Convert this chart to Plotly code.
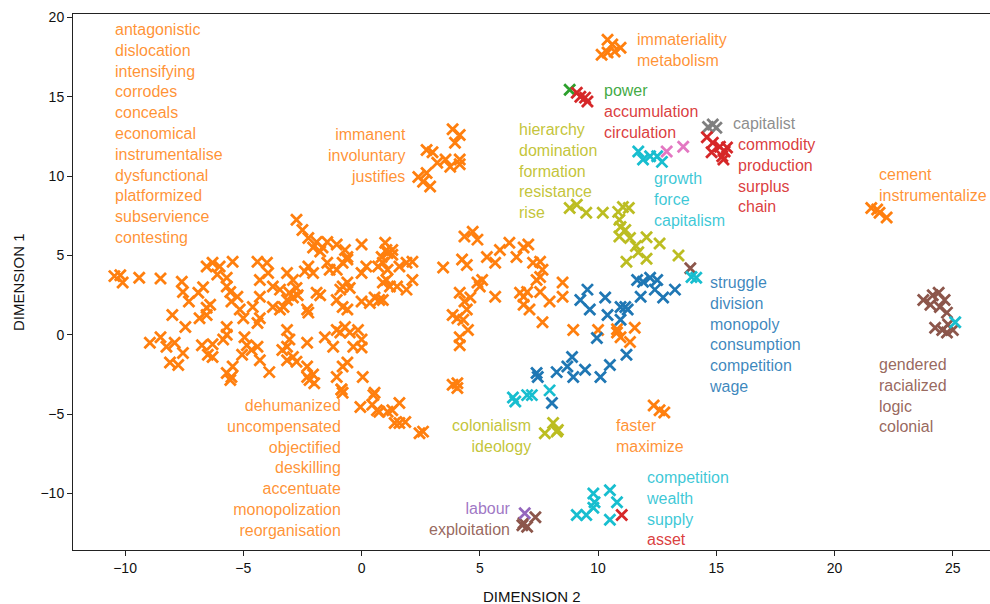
import plotly.graph_objects as go

# ---- embedding coordinates per cluster colour (DIMENSION 2 = x, DIMENSION 1 = y) ----
orange_x = [
    -10.45, -10.2, -10.1, -9.4, -8.5, -7.6, -7.55, -7.3, -8.0, -7.45,
    -8.95, -8.5, -8.25, -7.9, -8.1, -7.75, -7.55, -6.75, -6.5, -6.3,
    -6.85, -6.55, -6.9, -6.7, -6.4, -6.55, -6.55, -6.3, -6.0, -6.1,
    -5.7, -5.45, -5.7, -5.55, -5.25, -5.5, -5.15, -5.0, -5.7, -5.85,
    -5.7, -6.3, -5.7, -5.5, -5.45, -4.95, -4.85, -4.65, -4.4, -5.05,
    -4.3, -3.9, -4.6, -4.3, -4.4, -4.0, -3.95, -4.3, -4.3, -4.4,
    -3.75, -3.45, -3.75, -3.45, -3.15, -2.9, -2.75, -3.05, -2.9, -2.7,
    -3.15, -3.3, -3.15, -3.05, -3.15, -3.35, -3.15, -2.9, -2.75, -2.3,
    -2.3, -2.3, -2.2, -2.05, -2.3, -2.25, -2.4, -2.25, -2.05, -1.9,
    -1.75, -1.45, -1.35, -1.55, -1.2, -1.05, -0.9, -1.05, -0.8, -0.85,
    -0.8, -1.05, -0.8, -0.6, -0.9, -0.8, -0.6, -0.5, -1.05, -0.8,
    -0.6, -0.7, -0.5, -0.15, 0.0, -0.35, 0.0, -0.6, 0.05, 0.55,
    0.45, 0.75, 1.3, 0.7, 0.9, 1.1, 0.55, 0.75, 0.9, 1.2,
    0.0, 0.35, 0.0, 0.0, -2.75, -2.5, -2.25, -1.9, -1.45, -1.65,
    -1.05, -2.05, -1.75, -0.7, -0.6, 0.2, 1.0, 1.1, 0.85, 1.3,
    1.05, 1.3, 1.6, 1.9, 2.15, 1.05, 1.5, 1.9, 2.15, 0.9,
    3.45, 4.25, 4.45, 4.35, 4.9, 4.7, 4.15, 4.35, 4.6, 4.45,
    4.3, 4.05, 3.85, 4.5, 4.15, 4.15, 4.9, 5.1, 5.0, 5.65,
    3.85, 4.05, 4.05, 5.3, 5.65, 5.85, 6.25, 6.55, 6.85, 7.05,
    7.25, 7.55, 7.65, 7.55, 7.4, 6.7, 6.85, 7.0, 6.85, 7.1,
    7.55, 7.95, 7.65, 8.5, 8.5, 8.95, 10.0, 10.8, 10.95, 10.8,
    11.35, 11.55, 12.35, 12.6, 12.8, 1.6, 1.6, 1.85, 2.45, 2.6,
    -0.05, 0.5, 0.65, 1.1, 1.4, -0.85, -2.0, -5.55,
    3.85, 4.15, 3.95, 2.75, 3.0, 3.2, 3.55, 3.75, 4.15, 4.15,
    2.4, 2.75, 2.9, 2.6,
    10.4, 10.6, 10.95, 10.15, 10.4, 10.7,
    21.55, 21.9, 22.2, 21.8,
]
orange_y = [
    3.7, 3.75, 3.3, 3.6, 3.55, 3.35, 2.7, 2.1, 1.25, 0.5,
    -0.5, -0.15, -0.75, -0.5, -1.75, -1.9, -1.15, -0.65, -1.25, -0.6,
    1.05, 1.25, 2.65, 3.0, 1.9, 1.7, 4.3, 4.55, 4.3, 3.8,
    3.6, 4.6, 3.05, 2.7, 2.4, 2.1, 1.6, 1.05, 0.5, -0.3,
    0.0, -1.4, -2.4, -2.65, -2.0, -0.15, -0.65, -0.95, -0.75, -1.25,
    -1.6, -2.35, 1.75, 2.4, 4.6, 4.55, 3.9, 3.45, 1.05, 0.75,
    3.05, 2.85, 1.75, 1.6, 3.9, 3.45, 2.95, 2.65, 2.35, 2.5,
    2.2, 1.75, 0.3, -0.3, -0.75, -0.95, -1.6, -1.4, -1.7, -2.0,
    -0.5, -2.65, -2.85, -2.5, 1.6, 1.4, 4.0, 4.3, 3.9, 2.65,
    2.5, 4.55, 4.1, -0.15, -0.75, 0.3, 0.15, -2.65, -2.0, -3.45,
    -3.65, 2.2, 1.75, 1.6, 2.85, 3.05, 3.3, 2.95, 4.1, 4.55,
    4.75, 0.5, 0.15, 0.3, -0.3, -0.75, -0.8, -1.75, -2.65, -3.65,
    -4.4, -4.85, -4.75, 4.3, 4.55, 4.1, 2.35, 2.2, 3.3, 3.05,
    2.1, 2.0, 5.7, 3.9, 7.25, 6.6, 6.1, 5.85, 5.85, 5.5,
    5.7, 5.5, 5.25, 5.35, 4.9, 4.3, 5.8, 5.15, 4.9, 5.35,
    5.35, 5.05, 4.3, 4.55, 4.6, 3.45, 3.05, 2.85, 3.45, 2.2,
    4.25, 4.75, 4.4, 6.2, 6.0, 6.5, 2.65, 2.1, 2.35, 1.6,
    0.95, 1.05, 1.25, 0.3, -0.15, -0.65, 3.3, 3.45, 3.05, 2.4,
    -3.15, -3.05, -3.35, 4.9, 4.55, 5.35, 5.8, 4.9, 5.5, 5.7,
    4.55, 4.6, 4.1, 3.65, 3.45, 2.65, 2.4, 2.7, 1.9, 1.6,
    2.7, 2.1, 0.8, 3.3, 2.4, 0.3, 0.3, 0.15, -0.15, 0.35,
    -0.45, 0.45, -4.45, -4.75, -4.9, -4.3, -5.55, -5.5, -6.2, -6.1,
    -4.55, -3.8, -4.75, -4.85, -5.55, -3.45, -3.05, -2.85,
    12.95, 12.6, 12.1, 11.65, 11.5, 10.85, 11.05, 10.6, 11.05, 10.75,
    9.95, 10.2, 9.35, 9.65,
    18.6, 18.3, 18.1, 17.65, 17.8, 17.85,
    8.0, 7.7, 7.4, 7.9,
]

blue_x = [9.25, 9.55, 9.65, 10.3, 10.4, 10.95, 11.15, 11.25, 10.95,
          11.65, 11.9, 12.2, 12.5, 11.8, 12.4, 12.75, 13.25,
          9.95, 11.2, 8.9, 8.7, 8.95, 9.45, 10.1, 10.5, 8.25, 7.4, 7.45, 8.05]
blue_y = [2.2, 2.85, 1.6, 2.35, 1.25, 1.75, 1.75, 1.6, 0.95,
          3.45, 3.35, 3.6, 3.45, 2.4, 2.85, 2.35, 2.85,
          -0.2, -1.25, -1.4, -2.0, -2.65, -2.2, -2.65, -1.9, -2.35, -2.4, -2.65, -4.3]

olive_x = [8.8, 9.1, 9.5, 10.2, 10.85, 11.05, 11.3, 10.9, 10.95, 11.15,
           10.9, 11.35, 12.05, 11.6, 12.6, 11.7, 12.05, 11.2, 13.4,
           8.1, 7.75, 8.25, 8.3]
olive_y = [8.0, 8.2, 7.7, 7.7, 7.75, 8.05, 8.0, 7.25, 6.8, 6.6,
           6.2, 6.1, 6.15, 5.6, 5.75, 5.2, 4.8, 4.6, 5.0,
           -5.55, -6.2, -6.1, -6.0]

cyan_x = [6.4, 6.5, 7.0, 7.2, 7.95, 13.95, 14.15,
          11.7, 11.9, 12.2, 12.5, 12.7, 25.1,
          9.8, 9.85, 10.5, 10.8, 9.1, 9.5, 9.8, 10.5]
cyan_y = [-3.95, -4.2, -3.8, -3.8, -3.5, 3.65, 3.6,
          11.55, 11.05, 11.25, 11.25, 10.9, 0.8,
          -10.0, -10.55, -9.8, -10.55, -11.35, -11.35, -10.9, -11.65]

red_x = [9.1, 9.45, 9.55, 9.25, 14.6, 14.85, 15.15, 15.45, 14.8, 15.25, 15.35, 15.3, 11.0]
red_y = [15.25, 14.95, 14.7, 15.0, 12.45, 12.1, 11.85, 11.8, 11.5, 11.25, 11.55, 11.05, -11.35]

green_x = [8.8]
green_y = [15.45]

gray_x = [14.65, 15.0, 14.85]
gray_y = [13.1, 13.05, 13.25]

pink_x = [12.9, 13.6]
pink_y = [11.55, 11.85]

purple_x = [6.9]
purple_y = [-11.25]

brown_x = [13.9, 23.75, 24.15, 24.4, 24.65, 24.05, 24.45, 24.75, 24.25, 24.55, 24.8, 25.0, 24.75,
           7.35, 6.8, 7.0, 6.85]
brown_y = [4.2, 2.2, 2.5, 2.65, 2.2, 1.9, 1.75, 1.4, 0.45, 0.3, 0.65, 0.3, 0.15,
           -11.5, -12.0, -12.1, -11.85]

# ---- word lists attached to clusters ----
words_left_top = ["antagonistic", "dislocation", "intensifying", "corrodes", "conceals",
                  "economical", "instrumentalise", "dysfunctional", "platformized",
                  "subservience", "contesting"]
words_immanent = ["immanent", "involuntary", "justifies"]
words_immateriality = ["immateriality", "metabolism"]
words_power = ["power"]
words_accumulation = ["accumulation", "circulation"]
words_hierarchy = ["hierarchy", "domination", "formation", "resistance", "rise"]
words_growth = ["growth", "force", "capitalism"]
words_capitalist = ["capitalist"]
words_commodity = ["commodity", "production", "surplus", "chain"]
words_cement = ["cement", "instrumentalize"]
words_struggle = ["struggle", "division", "monopoly", "consumption", "competition", "wage"]
words_gendered = ["gendered", "racialized", "logic", "colonial"]
words_dehumanized = ["dehumanized", "uncompensated", "objectified", "deskilling",
                     "accentuate", "monopolization", "reorganisation"]
words_colonialism = ["colonialism", "ideology"]
words_faster = ["faster", "maximize"]
words_competition = ["competition", "wealth", "supply"]
words_asset = ["asset"]
words_labour = ["labour"]
words_exploitation = ["exploitation"]

C = {
    "blue": "#1f77b4", "orange": "#ff7f0e", "green": "#2ca02c", "red": "#d62728",
    "purple": "#9467bd", "brown": "#8c564b", "pink": "#e377c2", "gray": "#7f7f7f",
    "olive": "#bcbd22", "cyan": "#17becf",
}
TXT = {
    "blue": "rgba(31,119,180,0.88)", "orange": "rgba(255,127,14,0.85)",
    "green": "rgba(44,160,44,0.9)", "red": "rgba(214,39,40,0.9)",
    "purple": "rgba(148,103,189,0.9)", "brown": "rgba(140,86,75,0.9)",
    "gray": "rgba(127,127,127,0.9)", "olive": "rgba(188,189,34,0.9)",
    "cyan": "rgba(23,190,207,0.85)",
}
FONT = "Liberation Sans, Arial, sans-serif"

fig = go.Figure()

series = [
    ("orange", orange_x, orange_y),
    ("olive", olive_x, olive_y),
    ("blue", blue_x, blue_y),
    ("brown", brown_x, brown_y),
    ("cyan", cyan_x, cyan_y),
    ("gray", gray_x, gray_y),
    ("pink", pink_x, pink_y),
    ("green", green_x, green_y),
    ("red", red_x, red_y),
    ("purple", purple_x, purple_y),
]
for name, xs, ys in series:
    fig.add_trace(go.Scatter(
        x=xs, y=ys, mode="markers", name=name, showlegend=False, hoverinfo="skip",
        marker=dict(symbol="x-thin", size=11, color=C[name],
                    line=dict(color=C[name], width=2.8)),
    ))


def block(parts, x, y, side="left"):
    """Multi-line word label; parts is a list of (words, colour)."""
    lines = []
    for words, col in parts:
        for w in words:
            lines.append(f"<span style='color:{TXT[col]}'>{w}</span>")
    fig.add_annotation(
        x=x, y=y, xref="x", yref="y", text="<br>".join(lines), showarrow=False,
        xanchor=side, yanchor="middle", align=side,
        font=dict(family=FONT, size=16),
    )


block([(words_left_top, "orange")], -10.51, 12.71)
block([(words_immanent, "orange")], 1.96, 11.29, "right")
block([(words_immateriality, "orange")], 11.56, 17.95)
block([(words_power, "green"), (words_accumulation, "red")], 10.16, 14.1)
block([(words_hierarchy, "olive")], 6.57, 10.32)
block([(words_growth, "cyan")], 12.27, 8.5)
block([(words_capitalist, "gray")], 15.61, 13.31)
block([(words_commodity, "red")], 15.82, 10.03)
block([(words_cement, "orange")], 21.79, 9.43)
block([(words_struggle, "blue")], 14.6, 0.0)
block([(words_gendered, "brown")], 21.79, -3.85)
block([(words_dehumanized, "orange")], -0.79, -8.42, "right")
block([(words_colonialism, "olive")], 7.24, -6.4, "right")
block([(words_faster, "orange")], 10.67, -6.4)
block([(words_competition, "cyan"), (words_asset, "red")], 11.94, -10.95)
block([(words_labour, "purple"), (words_exploitation, "brown")], 6.4, -11.58, "right")

# axis titles
fig.add_annotation(text="DIMENSION 2", xref="paper", yref="paper", x=0.5, y=0,
                   yanchor="middle", yshift=-46, showarrow=False,
                   font=dict(family=FONT, size=15, color="#111"))
fig.add_annotation(text="DIMENSION 1", xref="paper", yref="paper", x=0, y=0.5,
                   xanchor="center", xshift=-55, textangle=-90, showarrow=False,
                   font=dict(family=FONT, size=15, color="#111"))

axis_common = dict(
    showgrid=False, zeroline=False, showline=True, linecolor="#222", linewidth=1,
    ticks="outside", ticklen=5, tickwidth=1, tickcolor="#222",
    tickfont=dict(family=FONT, size=14, color="#111"),
)
fig.update_xaxes(range=[-12.2, 26.57], tickvals=[-10, -5, 0, 5, 10, 15, 20, 25],
                 mirror=True, **axis_common)
fig.update_yaxes(range=[-13.56, 20.22], tickvals=[-10, -5, 0, 5, 10, 15, 20],
                 **axis_common)

fig.update_layout(
    width=990, height=604,
    margin=dict(l=73, r=0, t=14, b=54),
    plot_bgcolor="white", paper_bgcolor="white",
)

fig.write_html("out.html")
